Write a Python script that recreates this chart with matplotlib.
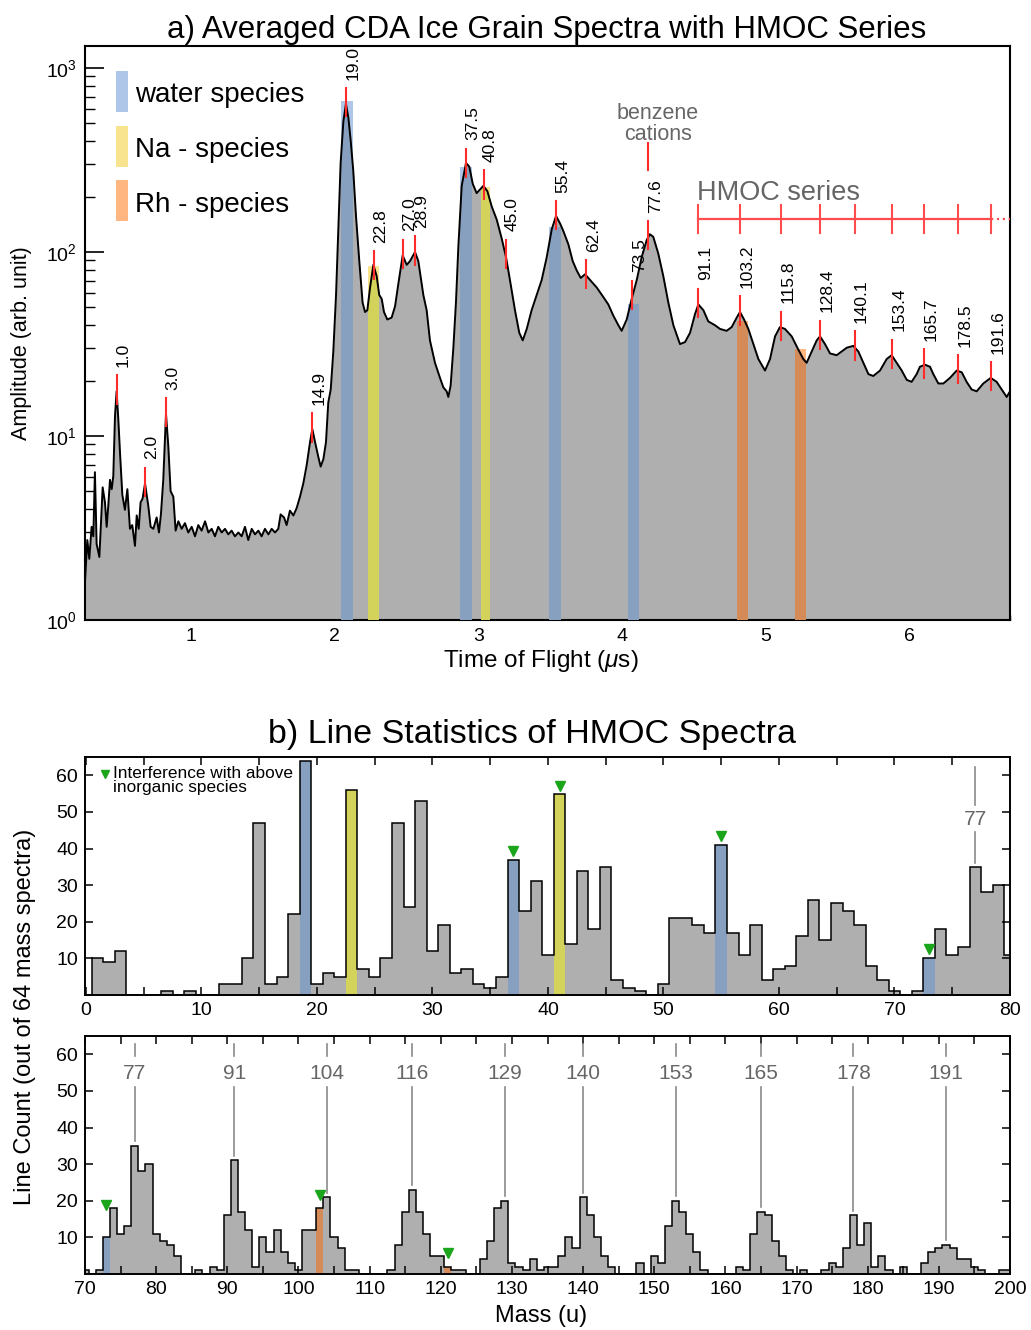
import numpy as np
import matplotlib
matplotlib.use("Agg")
import matplotlib.pyplot as plt
from matplotlib.patches import Rectangle
from matplotlib.ticker import LogLocator, NullFormatter, MultipleLocator, FixedLocator

plt.rcParams['font.family'] = ['Liberation Sans', 'DejaVu Sans']
plt.rcParams['mathtext.fontset'] = 'custom'
plt.rcParams['mathtext.rm'] = 'Liberation Sans'
plt.rcParams['mathtext.it'] = 'Liberation Sans:italic'
plt.rcParams['mathtext.default'] = 'regular'

# ---------------- data: averaged spectrum (panel a) ----------------
tof_us = [
    0.262, 0.278, 0.292, 0.308, 0.320, 0.331, 0.343, 0.362, 0.385, 0.401,
    0.413, 0.424, 0.436, 0.448, 0.459, 0.471, 0.482, 0.494, 0.506, 0.522,
    0.540, 0.557, 0.575, 0.591, 0.610, 0.622, 0.636, 0.649, 0.663, 0.680,
    0.703, 0.719, 0.738, 0.761, 0.777, 0.791, 0.807, 0.826, 0.842, 0.858,
    0.877, 0.893, 0.912,
    0.935, 0.958, 0.981, 1.005, 1.028, 1.051, 1.074, 1.098, 1.121, 1.144,
    1.167, 1.190, 1.214, 1.237, 1.260, 1.283, 1.306, 1.330, 1.353, 1.376,
    1.399, 1.423, 1.446, 1.469, 1.492, 1.515, 1.539, 1.562, 1.585, 1.608,
    1.624, 1.648, 1.666, 1.689, 1.713, 1.736, 1.759, 1.782, 1.806, 1.829,
    1.845, 1.864, 1.887, 1.903, 1.922, 1.940, 1.956, 1.973, 1.991, 2.010,
    2.026, 2.042, 2.061, 2.079, 2.096, 2.112, 2.130, 2.149, 2.172, 2.195,
    2.212, 2.228, 2.247, 2.270, 2.293, 2.311, 2.328, 2.344, 2.367, 2.397,
    2.421, 2.444,
    2.474, 2.502, 2.525, 2.560, 2.583, 2.618, 2.641, 2.664, 2.699, 2.734,
    2.757, 2.780, 2.792, 2.808, 2.827, 2.845, 2.862, 2.885, 2.915, 2.938,
    2.962, 2.989, 3.013, 3.036, 3.064, 3.094, 3.129, 3.163, 3.194, 3.221,
    3.256, 3.286, 3.310, 3.338, 3.372, 3.407, 3.442, 3.477, 3.512, 3.542,
    3.570, 3.593, 3.628, 3.658, 3.686, 3.714, 3.744, 3.779, 3.825, 3.871,
    3.906, 3.941, 3.976, 3.999, 4.034, 4.069, 4.104, 4.138, 4.173, 4.195,
    4.219, 4.254, 4.289, 4.324, 4.359, 4.405, 4.440, 4.475, 4.510, 4.533,
    4.568, 4.602, 4.649, 4.684, 4.730, 4.765, 4.800, 4.823, 4.851, 4.881,
    4.916, 4.951, 4.997, 5.032, 5.067, 5.101, 5.136, 5.183, 5.229, 5.264,
    5.287, 5.322, 5.357, 5.380, 5.415, 5.450, 5.496, 5.531, 5.566, 5.612,
    5.647, 5.682, 5.717, 5.751, 5.798, 5.844, 5.879, 5.914, 5.949, 5.984,
    6.018, 6.053, 6.076, 6.111, 6.146, 6.169, 6.204, 6.239, 6.285, 6.332,
    6.367, 6.401, 6.436, 6.471, 6.517, 6.569, 6.610, 6.645, 6.680, 6.703,
]
amp = [
    1.62, 2.72, 2.15, 3.21, 2.85, 6.36, 2.59, 2.20, 5.26, 4.36,
    3.21, 4.16, 5.78, 5.14, 6.06, 12.9, 17.5, 12.3, 8.05, 4.79,
    3.97, 5.14, 3.13, 3.28, 2.53, 3.70, 3.13, 4.36, 4.57, 5.52,
    4.16, 3.21, 3.13, 3.61, 2.99, 3.78, 5.78, 13.2, 8.84, 5.02,
    4.68, 3.06, 3.44,
    3.13, 3.36, 2.99, 3.21, 2.85, 3.28, 3.06, 3.44, 2.99, 3.13,
    2.85, 3.21, 2.99, 3.13, 2.92, 3.06, 2.85, 2.99, 2.85, 3.21,
    2.72, 3.13, 2.92, 3.06, 2.85, 3.13, 2.92, 3.13, 2.99, 3.13,
    3.75, 3.61, 3.28, 3.93, 3.70, 4.06, 4.68, 5.52, 6.98, 9.27,
    10.9, 9.27, 7.68, 6.82, 7.50, 9.27, 15.2, 17.9, 28.8, 58.4,
    136, 305, 512, 640, 537, 404, 277, 157, 89.3, 53.1,
    47.2, 48.3, 64.2, 85.2, 73.9, 58.4, 55.7, 47.2, 43.0, 44.0,
    50.7, 67.3,
    95.9, 85.2, 89.3, 100, 89.3, 58.4, 48.3, 33.1, 25.0, 20.7,
    18.4, 17.5, 16.3, 18.8, 30.2, 53.1, 108, 229, 305, 291,
    235, 209, 219, 229, 214, 177, 150, 119, 93.6, 70.5,
    48.3, 36.4, 33.1, 38.2, 48.3, 58.4, 70.5, 93.6, 133, 157,
    143, 130, 110, 89.3, 79.4, 72.3, 75.7, 70.5, 64.2, 57.0,
    51.9, 45.1, 40.0, 37.3, 43.0, 55.7, 70.5, 93.6, 116, 125,
    121, 98.1, 73.9, 53.1, 40.0, 31.6, 32.4, 36.4, 46.1, 51.9,
    48.3, 42.0, 40.0, 38.2, 37.3, 39.1, 44.0, 47.2, 43.0, 38.2,
    31.6, 26.2, 22.7, 26.2, 34.8, 39.1, 38.2, 34.8, 29.5, 26.2,
    25.0, 28.8, 33.1, 34.8, 31.6, 28.1, 27.5, 28.8, 30.2, 30.9,
    28.8, 25.0, 21.7, 21.2, 22.7, 26.2, 27.5, 25.0, 22.7, 20.2,
    19.7, 21.7, 23.8, 24.4, 23.8, 21.7, 19.3, 19.3, 20.7, 22.7,
    22.2, 19.7, 17.9, 17.5, 19.3, 20.7, 19.7, 17.9, 16.3, 17.5,
]

peak_labels = ['1.0', '2.0', '3.0', '14.9', '19.0', '22.8', '27.0', '28.9', '37.5',
               '40.8', '45.0', '55.4', '62.4', '73.5', '77.6', '91.1', '103.2',
               '115.8', '128.4', '140.1', '153.4', '165.7', '178.5', '191.6']
peak_tof = [0.482, 0.680, 0.826, 1.845, 2.079, 2.274, 2.474, 2.560, 2.913,
            3.038, 3.191, 3.540, 3.753, 4.073, 4.185, 4.533, 4.823,
            5.108, 5.380, 5.621, 5.881, 6.107, 6.339, 6.569]
hmoc_tof = peak_tof[15:]
hmoc_level = 151
benzene_tof = 4.185

band_tof = [2.085, 2.271, 2.914, 3.050, 3.535, 4.082, 4.838, 5.245]
band_width = [0.080, 0.080, 0.080, 0.065, 0.080, 0.080, 0.076, 0.078]
band_top = [664, 84.4, 290, 227, 136, 52.4, 42.4, 29.9]
band_kind = ['water', 'Na', 'water', 'Na', 'water', 'water', 'Rh', 'Rh']

legend_kinds = ['water', 'Na', 'Rh']
legend_labels = ['water species', 'Na - species', 'Rh - species']

# ---------------- data: line statistics (panel b) ----------------
mid_mass = list(range(0, 81))
mid_counts = [0, 10, 9, 12, 0, 0, 0, 1, 0, 1,
              0, 0, 3, 3, 10, 47, 3, 5, 22, 64,
              3, 6, 5, 56, 7, 5, 10, 47, 24, 53,
              12, 19, 6, 7, 3, 2, 5, 37, 23, 31,
              11, 55, 14, 34, 18, 35, 4, 2, 1, 0,
              3, 21, 21, 19, 17, 41, 17, 11, 19, 4,
              7, 8, 16, 26, 15, 25, 23, 19, 8, 4,
              1, 0, 1, 10, 18, 11, 13, 35, 28, 30,
              11]
mid_species_mass = [19, 23, 37, 41, 55, 73]
mid_species_kind = ['water', 'Na', 'water', 'Na', 'water', 'water']
mid_tri_mass = [37, 41, 55, 73]
mid_tri_y = [39.4, 57.0, 43.3, 12.5]

bot_mass = list(range(70, 201))
bot_counts = [1, 0, 1, 10, 18, 11, 13, 35, 28, 30,
              11, 9, 8, 5, 0, 0, 1, 0, 2, 1,
              16, 31, 17, 12, 2, 10, 6, 12, 6, 3,
              1, 12, 12, 18, 21, 10, 7, 1, 1, 0,
              0, 0, 0, 1, 8, 17, 23, 17, 11, 5,
              5, 2, 1, 1, 0, 0, 4, 9, 18, 20,
              3, 2, 1, 4, 1, 2, 2, 5, 10, 7,
              21, 16, 10, 5, 2, 0, 0, 0, 3, 0,
              5, 3, 13, 20, 17, 11, 6, 1, 0, 0,
              0, 0, 2, 1, 11, 17, 16, 9, 5, 1,
              0, 1, 0, 0, 1, 3, 2, 7, 16, 8,
              14, 2, 5, 1, 0, 2, 0, 0, 3, 6,
              7, 8, 7, 4, 4, 2, 1, 0, 0, 1,
              1]
bot_species_mass = [73, 103, 121]
bot_species_kind = ['water', 'Rh', 'Rh']
bot_tri_mass = [73, 103, 121]
bot_tri_y = [18.8, 21.5, 5.6]
hmoc_masses = [77, 91, 104, 116, 129, 140, 153, 165, 178, 191]

# ---------------- style ----------------
GRAY = '#afafaf'
LIGHT = {'water': '#aec7e8', 'Na': '#f8e48e', 'Rh': '#ffb680'}
DARK = {'water': '#87a0c0', 'Na': '#d3d35c', 'Rh': '#d58b57'}
RED = '#ff2a2a'
ANN = '#666666'
GREEN = '#1aa51a'

W, H = 1031, 1330
fig = plt.figure(figsize=(W / 100, H / 100), dpi=100)

# ================= panel a =================
ax = fig.add_axes([85 / W, 1 - 620 / H, 925 / W, 574 / H])
ax.set_yscale('log')
ax.set_xlim(0.262, 6.703)
ax.set_ylim(1, 10 ** 3.12)

fill = ax.fill_between(tof_us, 1, amp, color=GRAY, lw=0, zorder=2)
clip = fill.get_paths()[0]
for t, w, top, kind in zip(band_tof, band_width, band_top, band_kind):
    ax.bar(t, top - 1, width=w, bottom=1, color=LIGHT[kind], lw=0, zorder=1)
    bars = ax.bar(t, top - 1, width=w, bottom=1, color=DARK[kind], lw=0, zorder=3)
    for p in bars.patches:
        p.set_clip_path(clip, ax.transData)
ax.plot(tof_us, amp, color='black', lw=1.4, zorder=4)

logamp = np.log10(amp)
for lab, t in zip(peak_labels, peak_tof):
    v = 10 ** np.interp(t, tof_us, logamp)
    ax.plot([t, t], [v / 1.17, v * 1.22], color=RED, lw=1.5, zorder=5)
    ax.annotate(lab, (t, v * 1.22), xytext=(5, 6), textcoords='offset points',
                rotation=90, ha='center', va='bottom', fontsize=12.5, zorder=6)

# HMOC series bar
ax.plot([hmoc_tof[0], hmoc_tof[-1]], [hmoc_level, hmoc_level], color='#ff4c4c', lw=1.6, zorder=5)
ax.plot([hmoc_tof[-1], 6.703], [hmoc_level, hmoc_level], color='#ff4c4c', lw=1.6, ls=':', zorder=5)
for t in hmoc_tof:
    ax.plot([t, t], [hmoc_level / 1.19, hmoc_level * 1.2], color='#ff4c4c', lw=1.5, zorder=5)
ax.text(hmoc_tof[0] - 0.01, hmoc_level * 1.27, 'HMOC series', color=ANN, fontsize=19.5,
        ha='left', va='baseline')

# benzene cations
ax.plot([benzene_tof, benzene_tof], [280, 390], color=RED, lw=1.5, zorder=5)
ax.text(benzene_tof + 0.067, 498, 'benzene\ncations', color=ANN, fontsize=15.5,
        ha='center', va='center', linespacing=1.0)

# legend
leg_y0 = [0.885, 0.789, 0.695]
leg_ty = [0.9146, 0.8188, 0.723]
for kind, lab, y0, ty in zip(legend_kinds, legend_labels, leg_y0, leg_ty):
    ax.add_patch(Rectangle((0.0335, y0), 0.013, 0.0714, transform=ax.transAxes,
                           color=LIGHT[kind], lw=0, zorder=6))
    ax.text(0.054, ty, lab, transform=ax.transAxes, fontsize=20, va='center', ha='left')

ax.xaxis.set_major_locator(MultipleLocator(1))
ax.xaxis.set_minor_locator(MultipleLocator(0.1))
ax.yaxis.set_major_locator(LogLocator(base=10, numticks=10))
ax.yaxis.set_minor_locator(LogLocator(base=10, subs=np.arange(2, 10), numticks=20))
ax.yaxis.set_minor_formatter(NullFormatter())
ax.tick_params(axis='x', which='major', direction='in', length=7, width=1.2,
               labelsize=14, pad=6, top=False)
ax.tick_params(axis='x', which='minor', direction='in', length=3.6, width=1.0, top=False)
ax.tick_params(axis='y', which='major', direction='in', length=13.5, width=1.2,
               labelsize=14, pad=6, right=False)
ax.tick_params(axis='y', which='minor', direction='in', length=7, width=1.0, right=False)
for s in ax.spines.values():
    s.set_linewidth(1.5)

fig.text(547 / W, 1 - 30 / H, 'a) Averaged CDA Ice Grain Spectra with HMOC Series',
         ha='center', va='center', fontsize=22.5)
fig.text(22 / W, 1 - 343 / H, 'Amplitude (arb. unit)', rotation=90, ha='center',
         va='center', fontsize=15.5)
fig.text(541 / W, 1 - 661 / H, r'Time of Flight ($\mathit{\mu}$s)', ha='center',
         va='center', fontsize=17.5)


# ================= panel b =================
def hist_panel(axh, masses, counts, sp_mass, sp_kind, tri_mass, tri_y):
    edges = np.append(np.array(masses) - 0.5, masses[-1] + 0.5)
    axh.stairs(counts, edges, fill=True, color=GRAY, lw=0, zorder=1)
    for m, kind in zip(sp_mass, sp_kind):
        axh.bar(m, counts[masses.index(m)], width=1, color=DARK[kind], lw=0, zorder=2)
    axh.stairs(counts, edges, color='black', lw=1.1, zorder=3)
    axh.plot(tri_mass, tri_y, 'v', color=GREEN, ms=7, zorder=4)
    axh.set_ylim(0, 65)
    axh.xaxis.set_major_locator(MultipleLocator(10))
    axh.xaxis.set_minor_locator(MultipleLocator(5))
    axh.yaxis.set_major_locator(FixedLocator([10, 20, 30, 40, 50, 60]))
    axh.tick_params(which='both', direction='in', top=True, right=True, length=6,
                    width=1.1, labelsize=14, pad=5)
    for s in axh.spines.values():
        s.set_linewidth(1.4)


ax2 = fig.add_axes([85 / W, 1 - 995 / H, 925 / W, 238 / H])
hist_panel(ax2, mid_mass, mid_counts, mid_species_mass, mid_species_kind, mid_tri_mass, mid_tri_y)
ax2.set_xlim(-0.08, 80.0)
ax2.plot([77, 77], [mid_counts[77] + 1.1, 44.6], color='#8a8a8a', lw=1.2, zorder=4)
ax2.plot([77, 77], [51.9, 62.3], color='#8a8a8a', lw=1.2, zorder=4)
ax2.text(77, 47.8, '77', ha='center', va='center', color=ANN, fontsize=15)
ax2.plot([0.0216], [0.929], 'v', color=GREEN, ms=6, transform=ax2.transAxes)
ax2.text(0.030, 0.962, 'Interference with above\ninorganic species', transform=ax2.transAxes,
         va='top', ha='left', fontsize=12.4, linespacing=0.95)

ax3 = fig.add_axes([85 / W, 1 - 1274 / H, 925 / W, 238 / H])
hist_panel(ax3, bot_mass, bot_counts, bot_species_mass, bot_species_kind, bot_tri_mass, bot_tri_y)
ax3.set_xlim(70, 200)
for m in hmoc_masses:
    v = bot_counts[bot_mass.index(m)] + 1.2
    ax3.plot([m, m], [v, 51], color='#8a8a8a', lw=1.2, zorder=4)
    ax3.plot([m, m], [59.5, 62.7], color='#8a8a8a', lw=1.2, zorder=4)
    ax3.text(m, 54.8, str(m), ha='center', va='center', color=ANN, fontsize=15)

fig.text(532 / W, 1 - 734 / H, 'b) Line Statistics of HMOC Spectra', ha='center',
         va='center', fontsize=24.5)
fig.text(25 / W, 1 - 1017 / H, 'Line Count (out of 64 mass spectra)', rotation=90,
         ha='center', va='center', fontsize=17)
fig.text(541 / W, 1 - 1316 / H, 'Mass (u)', ha='center', va='center', fontsize=17)

fig.savefig('out.png', dpi=100)
